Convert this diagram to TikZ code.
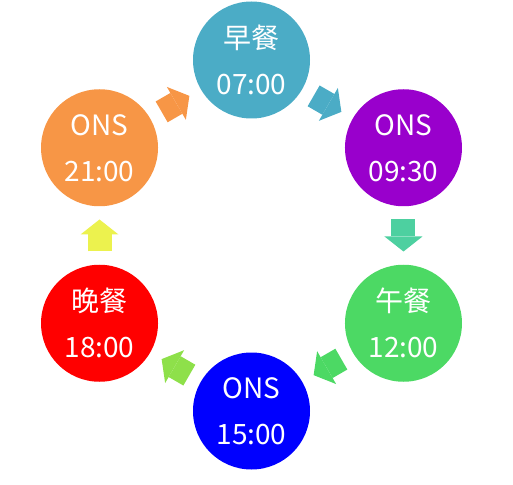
\documentclass[tikz,border=0pt]{standalone}
\usepackage{fontspec}
\newfontfamily\cjk{Noto Sans CJK SC}
\usetikzlibrary{arrows.meta}

\definecolor{aquaC}{RGB}{75,172,198}
\definecolor{purpleC}{RGB}{153,0,204}
\definecolor{greenC}{RGB}{76,217,100}
\definecolor{orangeC}{RGB}{247,150,70}
\definecolor{tealA}{RGB}{77,208,160}
\definecolor{limeA}{RGB}{142,224,74}
\definecolor{yellowA}{RGB}{236,242,78}

\tikzset{
  meal/.style={circle, fill=#1, text=white, minimum size=117pt, inner sep=0pt,
    align=center, font=\cjk\fontsize{28}{46}\selectfont},
  blk/.style={draw=#1, line width=24pt, shorten <=71.75pt, shorten >=71.75pt,
    -{Triangle[width=38pt,length=15pt,line width=0pt]}}
}

\begin{document}
\begin{tikzpicture}
    \useasboundingbox (-251.5pt,-248.5pt) rectangle (261.5pt,235.5pt);
        \node[meal=aquaC] at (90:175.5pt) (bf) {早餐\\07:00};
        \node[meal=purpleC] at (30:175.5pt) (ons1) {ONS\\09:30};
        \node[meal=greenC] at (-30:175.5pt) (lu) {午餐\\12:00};
        \node[meal=blue] at (-90:175.5pt) (ons2) {ONS\\15:00};
        \node[meal=red] at (-150:175.5pt) (di) {晚餐\\18:00};
        \node[meal=orangeC] at (150:175.5pt) (ons3) {ONS\\21:00};
        \draw[blk=aquaC] (bf.center) -- (ons1.center);
        \draw[blk=tealA] (ons1.center) -- (lu.center);
        \draw[blk=greenC] (lu.center) -- (ons2.center);
        \draw[blk=limeA] (ons2.center) -- (di.center);
        \draw[blk=yellowA] (di.center) -- (ons3.center);
        \draw[blk=orangeC] (ons3.center) -- (bf.center);
    \end{tikzpicture}
\end{document}
